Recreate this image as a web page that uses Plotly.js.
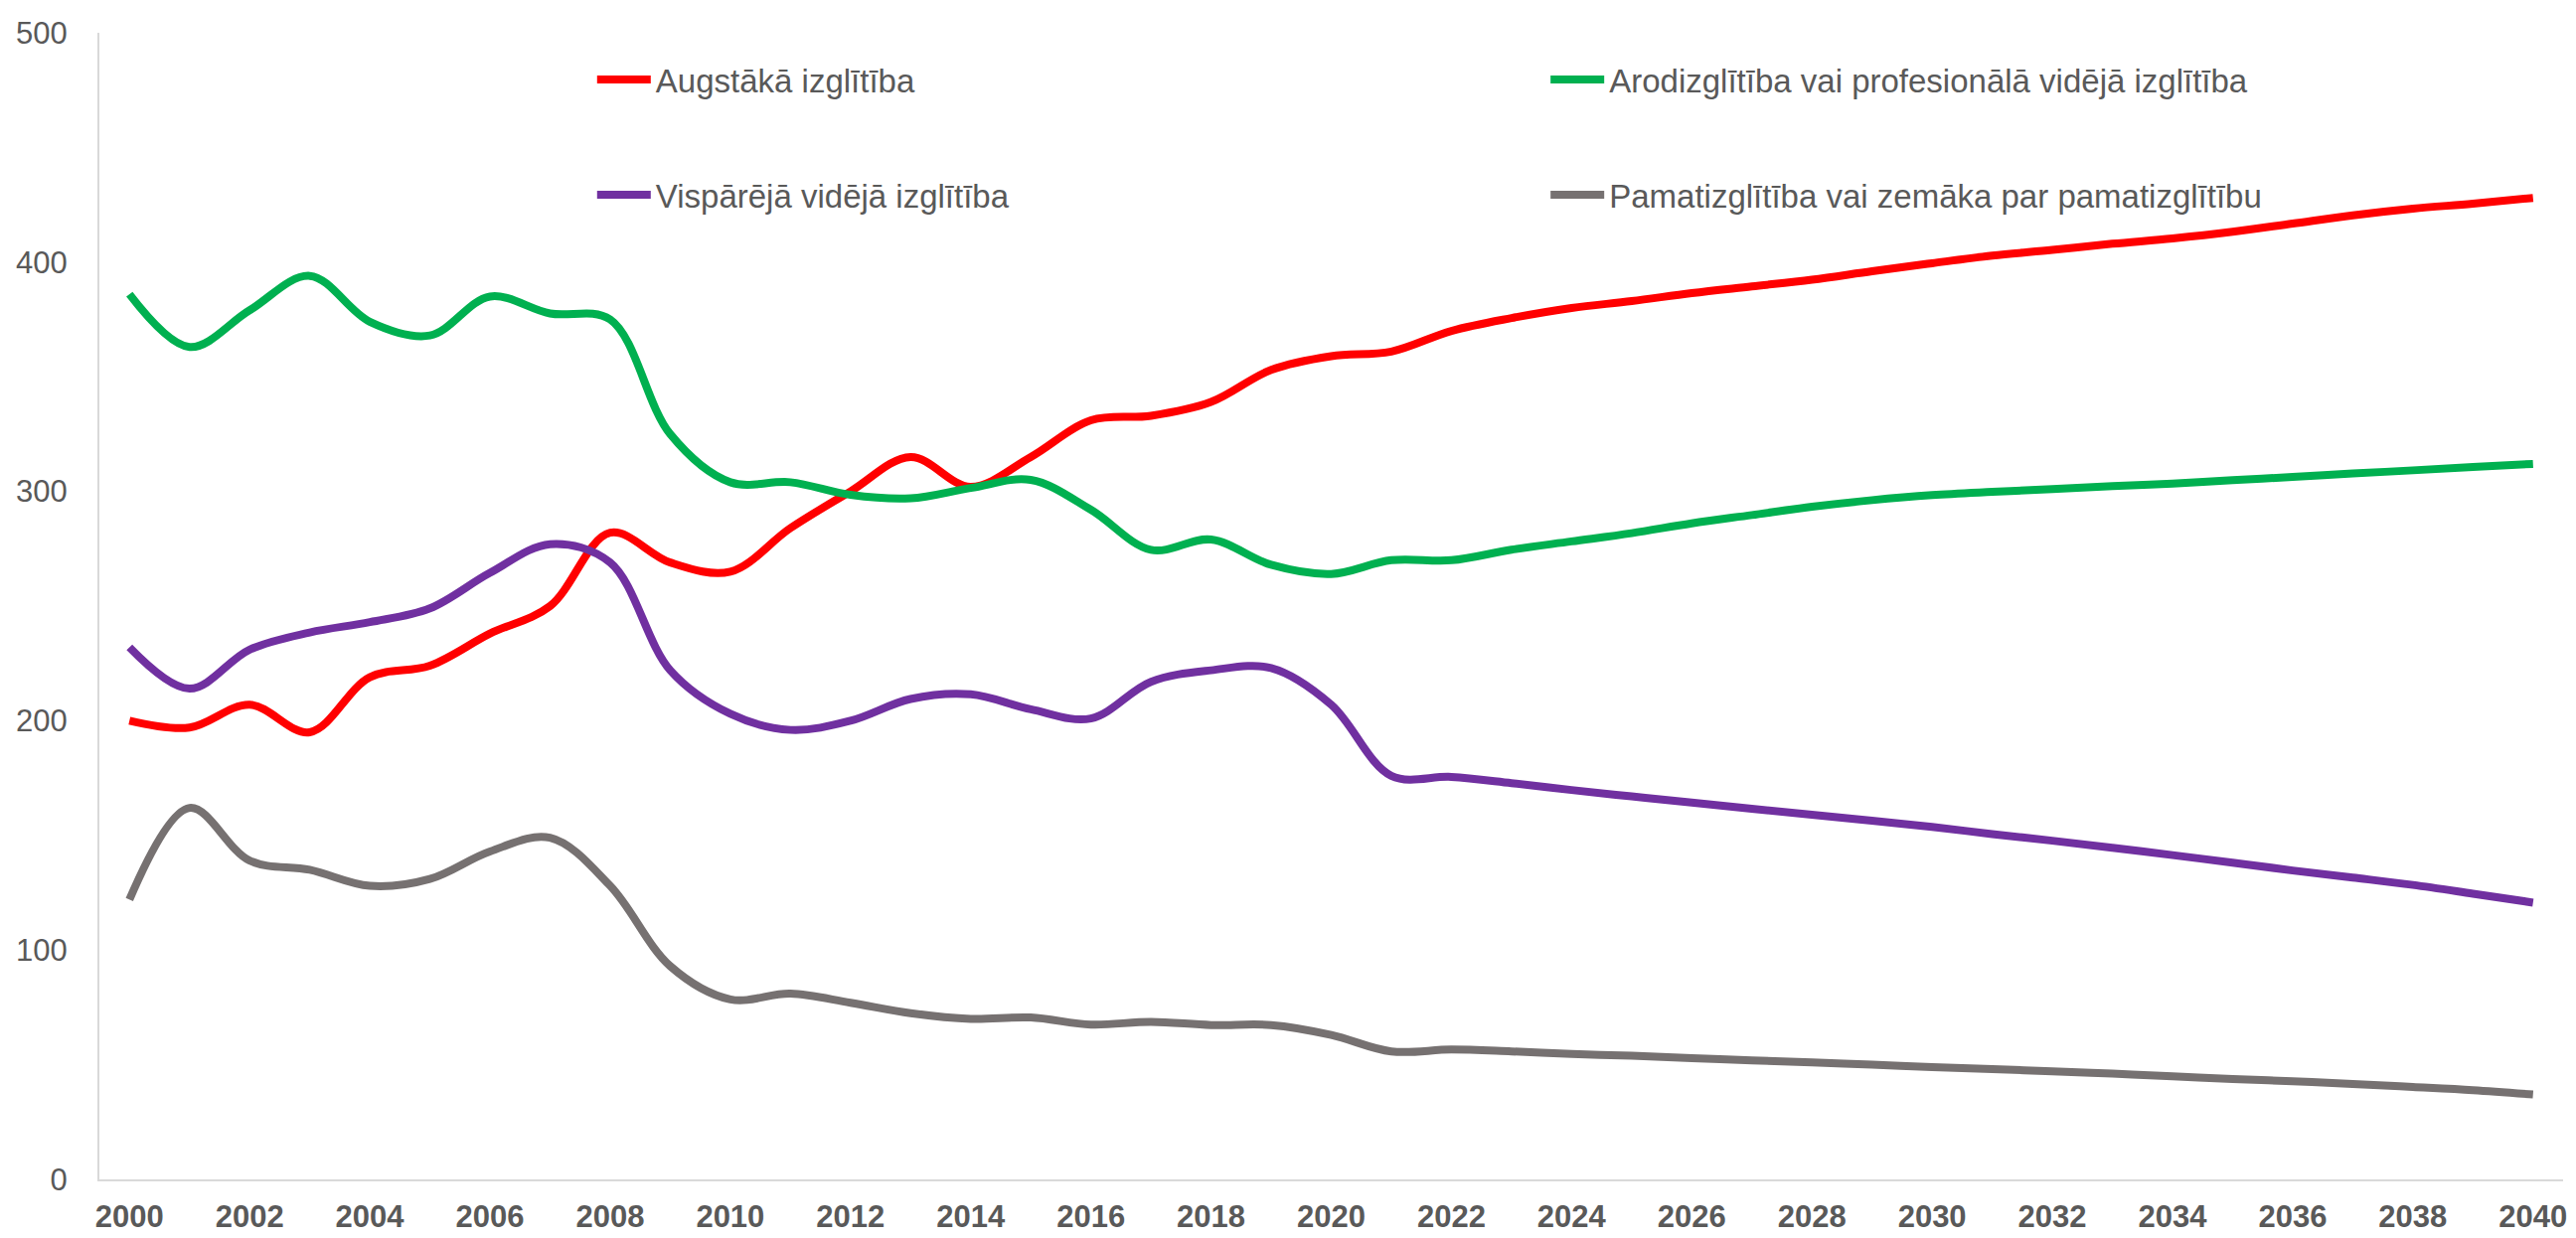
<!DOCTYPE html>
<html>
<head>
<meta charset="utf-8">
<script src="https://cdn.plot.ly/plotly-3.0.1.min.js"></script>
<style>
  html, body { margin: 0; padding: 0; background: #ffffff; }
  #chart { width: 2592px; height: 1246px; }
</style>
</head>
<body>
<div id="chart"></div>
<script>
// ---- Data ----
const years = [2000,2001,2002,2003,2004,2005,2006,2007,2008,2009,2010,2011,2012,2013,2014,2015,2016,2017,2018,2019,2020,
               2021,2022,2023,2024,2025,2026,2027,2028,2029,2030,2031,2032,2033,2034,2035,2036,2037,2038,2039,2040];

const seriesNames = [
  "Augstākā izglītība",
  "Arodizglītība vai profesionālā vidējā izglītība",
  "Vispārējā vidējā izglītība",
  "Pamatizglītība vai zemāka par pamatizglītību"
];

const augstaka = [200,197,207,195,219,224,238,250,282,269,265,284,300,315,302,315,331,333,339,353,359,
                  361,370,375.6,380,383,386.5,389.4,392.3,396,399.5,402.8,405.3,408,410.3,413.2,416.8,420.4,423.3,425.5,428];

const arodizglitiba = [386,363,379,394,374,368,385,377.6,375,325,304,304,298.5,297,301.5,305,292,274.5,279,268,264,
                       270,270,274.6,278.2,281.8,286.1,289.7,293.3,296.2,298.4,299.8,301,302.3,303.4,304.9,306.3,307.8,309.2,310.7,312];

const visparejaVideja = [232,214,231,238.5,243,249,264.5,277,269,222,203,196,200,209.5,211.5,205,201,217,222,223,207,
                         176,175.5,172.8,169.8,167,164.3,161.6,159,156.4,153.7,150.6,147.7,144.6,141.4,138.1,134.7,131.6,128.4,124.6,120.7];

const pamatizglitiba = [122,162,139,135,128,131,143,149,128,93,78.5,81,77,72.5,70,70.6,67.5,68.7,67.3,67.3,63,
                        55.8,56.6,55.8,54.7,53.9,52.9,51.9,51,50,49,48.1,47.1,46.1,44.9,43.8,42.8,41.6,40.3,38.9,37];

const xTickVals = [2000,2002,2004,2006,2008,2010,2012,2014,2016,2018,2020,2022,2024,2026,2028,2030,2032,2034,2036,2038,2040];
const yTickVals = [0,100,200,300,400,500];

// ---- Styles ----
const colors = ["#FF0000", "#00B050", "#7030A0", "#767171"];
const values = [augstaka, arodizglitiba, visparejaVideja, pamatizglitiba];
const legendIds = ["legend", "legend2", "legend3", "legend4"];
const FONT = "Liberation Sans, Arial, sans-serif";
const TEXT = "#595959";

const traces = values.map((v, i) => ({
  type: "scatter",
  mode: "lines",
  name: seriesNames[i],
  x: years,
  y: v,
  line: { color: colors[i], width: 8, shape: "spline", smoothing: 1 },
  legend: legendIds[i],
  hoverinfo: "x+y+name"
}));

const legendBase = {
  orientation: "v",
  font: { family: FONT, size: 33, color: TEXT },
  bgcolor: "rgba(0,0,0,0)",
  borderwidth: 0,
  itemwidth: 54,
  xanchor: "left",
  yanchor: "middle"
};

const layout = {
  width: 2592,
  height: 1246,
  margin: { l: 100, r: 13, t: 33, b: 59 },
  paper_bgcolor: "#ffffff",
  plot_bgcolor: "#ffffff",
  showlegend: true,
  font: { family: FONT, color: TEXT },
  xaxis: {
    range: [1999.5, 2040.5],
    tickmode: "array",
    tickvals: xTickVals,
    ticktext: xTickVals.map(String),
    ticks: "",
    showgrid: false,
    zeroline: false,
    showline: true,
    linecolor: "#D9D9D9",
    linewidth: 2,
    ticklabelstandoff: 9,
    tickfont: { family: FONT, size: 31, color: TEXT, weight: "bold" }
  },
  yaxis: {
    range: [0, 500],
    tickmode: "array",
    tickvals: yTickVals,
    ticks: "",
    showgrid: false,
    zeroline: false,
    showline: true,
    linecolor: "#D9D9D9",
    linewidth: 2,
    ticklabelstandoff: 24,
    tickfont: { family: FONT, size: 31, color: TEXT }
  },
  legend:  Object.assign({}, legendBase, { x: 0.2, y: 0.9593 }),
  legend2: Object.assign({}, legendBase, { x: 0.587, y: 0.9593 }),
  legend3: Object.assign({}, legendBase, { x: 0.2, y: 0.8588 }),
  legend4: Object.assign({}, legendBase, { x: 0.587, y: 0.8588 })
};

Plotly.newPlot("chart", traces, layout, { displayModeBar: false, staticPlot: false });
</script>
</body>
</html>
